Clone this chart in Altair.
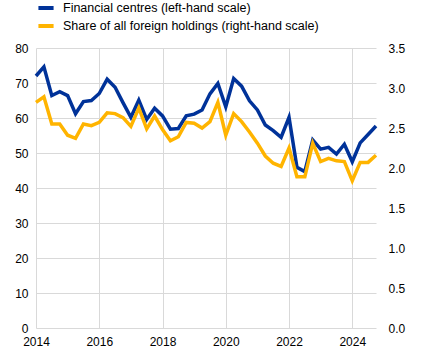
import altair as alt
import pandas as pd

quarters = [2014 + i * 0.25 for i in range(44)]

financial_centres = [
    72.0, 74.6, 66.4, 67.5, 66.4, 61.2, 64.7, 65.0, 67.0, 71.1,
    68.8, 64.4, 60.2, 65.1, 59.6, 62.8, 60.6, 56.8, 57.0, 60.6,
    61.1, 62.3, 66.9, 69.9, 63.2, 71.3, 69.1, 64.9, 62.3, 58.0,
    56.4, 54.5, 60.2, 45.9, 44.7, 53.7, 51.1, 51.6, 49.7, 52.5,
    47.5, 52.9, 55.3, 57.7,
]

share_foreign = [
    2.82, 2.89, 2.55, 2.55, 2.41, 2.37, 2.55, 2.53, 2.57, 2.69,
    2.68, 2.63, 2.52, 2.75, 2.49, 2.65, 2.48, 2.34, 2.39, 2.57,
    2.56, 2.50, 2.58, 2.82, 2.41, 2.68, 2.58, 2.45, 2.31, 2.15,
    2.06, 2.02, 2.25, 1.89, 1.89, 2.31, 2.08, 2.12, 2.09, 2.08,
    1.84, 2.07, 2.07, 2.16,
]

series_names = ["Financial centres (left-hand scale)",
                "Share of all foreign holdings (right-hand scale)"]
series_colors = ["#003299", "#FFB400"]
x_ticks = [2014, 2016, 2018, 2020, 2022, 2024]
left_ticks = [0, 10, 20, 30, 40, 50, 60, 70, 80]
right_ticks = [0, 0.5, 1.0, 1.5, 2.0, 2.5, 3.0, 3.5]

df = pd.DataFrame({
    "t": quarters * 2,
    "value": financial_centres + share_foreign,
    "series": [series_names[0]] * 44 + [series_names[1]] * 44,
})

font = "Liberation Sans"

x_enc = alt.X("t:Q",
              scale=alt.Scale(domain=[2014, 2024.75], nice=False, zero=False),
              axis=alt.Axis(values=x_ticks, format="d", title=None, grid=True,
                            gridColor="#d9d9d9", domain=False, ticks=False,
                            labelFlush=False, labelPadding=8))

color_enc = alt.Color("series:N",
                      scale=alt.Scale(domain=series_names, range=series_colors),
                      legend=alt.Legend(title=None, orient="none", legendX=0, legendY=-50,
                                        symbolType="stroke", symbolStrokeWidth=4,
                                        symbolSize=230, labelFontSize=12.5,
                                        labelFont=font, labelColor="#000000",
                                        labelLimit=0,
                                        rowPadding=0, labelOffset=7))

left = alt.Chart(df).transform_filter(
    alt.datum.series == series_names[0]
).mark_line(strokeWidth=3.5).encode(
    x=x_enc,
    y=alt.Y("value:Q", scale=alt.Scale(domain=[0, 80], nice=False),
            axis=alt.Axis(values=left_ticks, title=None, grid=True, gridColor="#d9d9d9",
                          domain=False, ticks=False, orient="left", labelPadding=8)),
    color=color_enc,
)

right = alt.Chart(df).transform_filter(
    alt.datum.series == series_names[1]
).mark_line(strokeWidth=3.5).encode(
    x=x_enc,
    y=alt.Y("value:Q", scale=alt.Scale(domain=[0, 3.5], nice=False),
            axis=alt.Axis(values=right_ticks, format=".1f", title=None, grid=False,
                          domain=False, ticks=False, orient="right", labelPadding=12)),
    color=color_enc,
)

chart = alt.layer(left, right).resolve_scale(y="independent").properties(
    width=340, height=280,
    autosize=alt.AutoSizeParams(type="none"),
    padding={"left": 36, "top": 48, "right": 61, "bottom": 29},
).configure_view(stroke=None).configure_axis(
    labelFont=font, labelFontSize=12, labelColor="#000000"
)

chart.save("out.html", embed_options={"renderer": "svg", "actions": False})
